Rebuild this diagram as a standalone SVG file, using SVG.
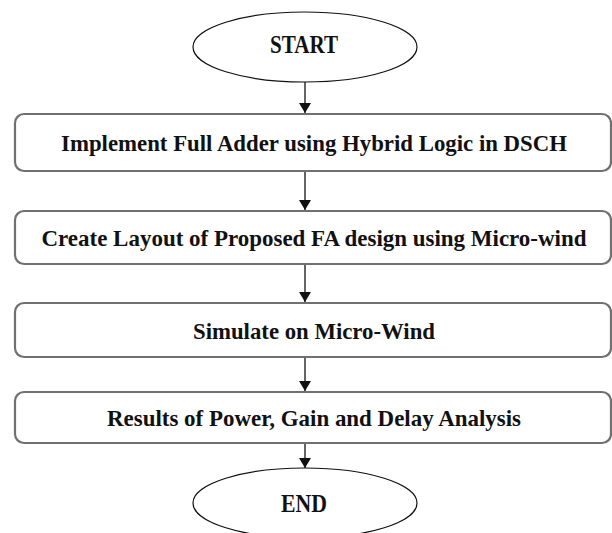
<svg xmlns="http://www.w3.org/2000/svg" width="612" height="533" viewBox="0 0 612 533">
<style>
.term{fill:#fff;stroke:#111;stroke-width:1.2}
.box{fill:#fff;stroke:#707070;stroke-width:2.2}
.t{font-family:"Liberation Serif","Times New Roman",serif;font-weight:bold;font-size:24px;fill:#111;text-anchor:middle}
.te{font-size:25px}
.conn line{stroke:#111;stroke-width:1.3}
</style>
<defs>
<marker id="ah" markerWidth="10" markerHeight="12" refX="10" refY="6" orient="auto" markerUnits="userSpaceOnUse">
<path d="M0,0 L10,6 L0,12 Z" fill="#111"/>
</marker>
</defs>
<rect width="612" height="533" fill="#fff"/>
<g id="connectors" class="conn">
<line x1="305" y1="82" x2="305" y2="113" marker-end="url(#ah)"/>
<line x1="305" y1="171" x2="305" y2="210" marker-end="url(#ah)"/>
<line x1="305" y1="264" x2="305" y2="302" marker-end="url(#ah)"/>
<line x1="305" y1="357" x2="305" y2="391" marker-end="url(#ah)"/>
<line x1="305" y1="443" x2="305" y2="468" marker-end="url(#ah)"/>
</g>
<g id="start">
<ellipse class="term" cx="305" cy="47" rx="112" ry="35"/>
<text class="t te" x="304" y="53" textLength="68" lengthAdjust="spacingAndGlyphs">START</text>
</g>
<g id="step1">
<rect class="box" x="15" y="114" width="596" height="57" rx="9"/>
<text class="t" x="314" y="151" textLength="506" lengthAdjust="spacingAndGlyphs">Implement Full Adder using Hybrid Logic in DSCH</text>
</g>
<g id="step2">
<rect class="box" x="15" y="211" width="596" height="53" rx="9"/>
<text class="t" x="314" y="245.5" textLength="545" lengthAdjust="spacingAndGlyphs">Create Layout of Proposed FA design using Micro-wind</text>
</g>
<g id="step3">
<rect class="box" x="15" y="303" width="596" height="54" rx="9"/>
<text class="t" x="314" y="338.5" textLength="242" lengthAdjust="spacingAndGlyphs">Simulate on Micro-Wind</text>
</g>
<g id="step4">
<rect class="box" x="15" y="392" width="596" height="51" rx="9"/>
<text class="t" x="314" y="425.5" textLength="414" lengthAdjust="spacingAndGlyphs">Results of Power, Gain and Delay Analysis</text>
</g>
<g id="end">
<ellipse class="term" cx="305" cy="503" rx="112" ry="35"/>
<text class="t te" x="304" y="511.5" textLength="46" lengthAdjust="spacingAndGlyphs">END</text>
</g>
</svg>
